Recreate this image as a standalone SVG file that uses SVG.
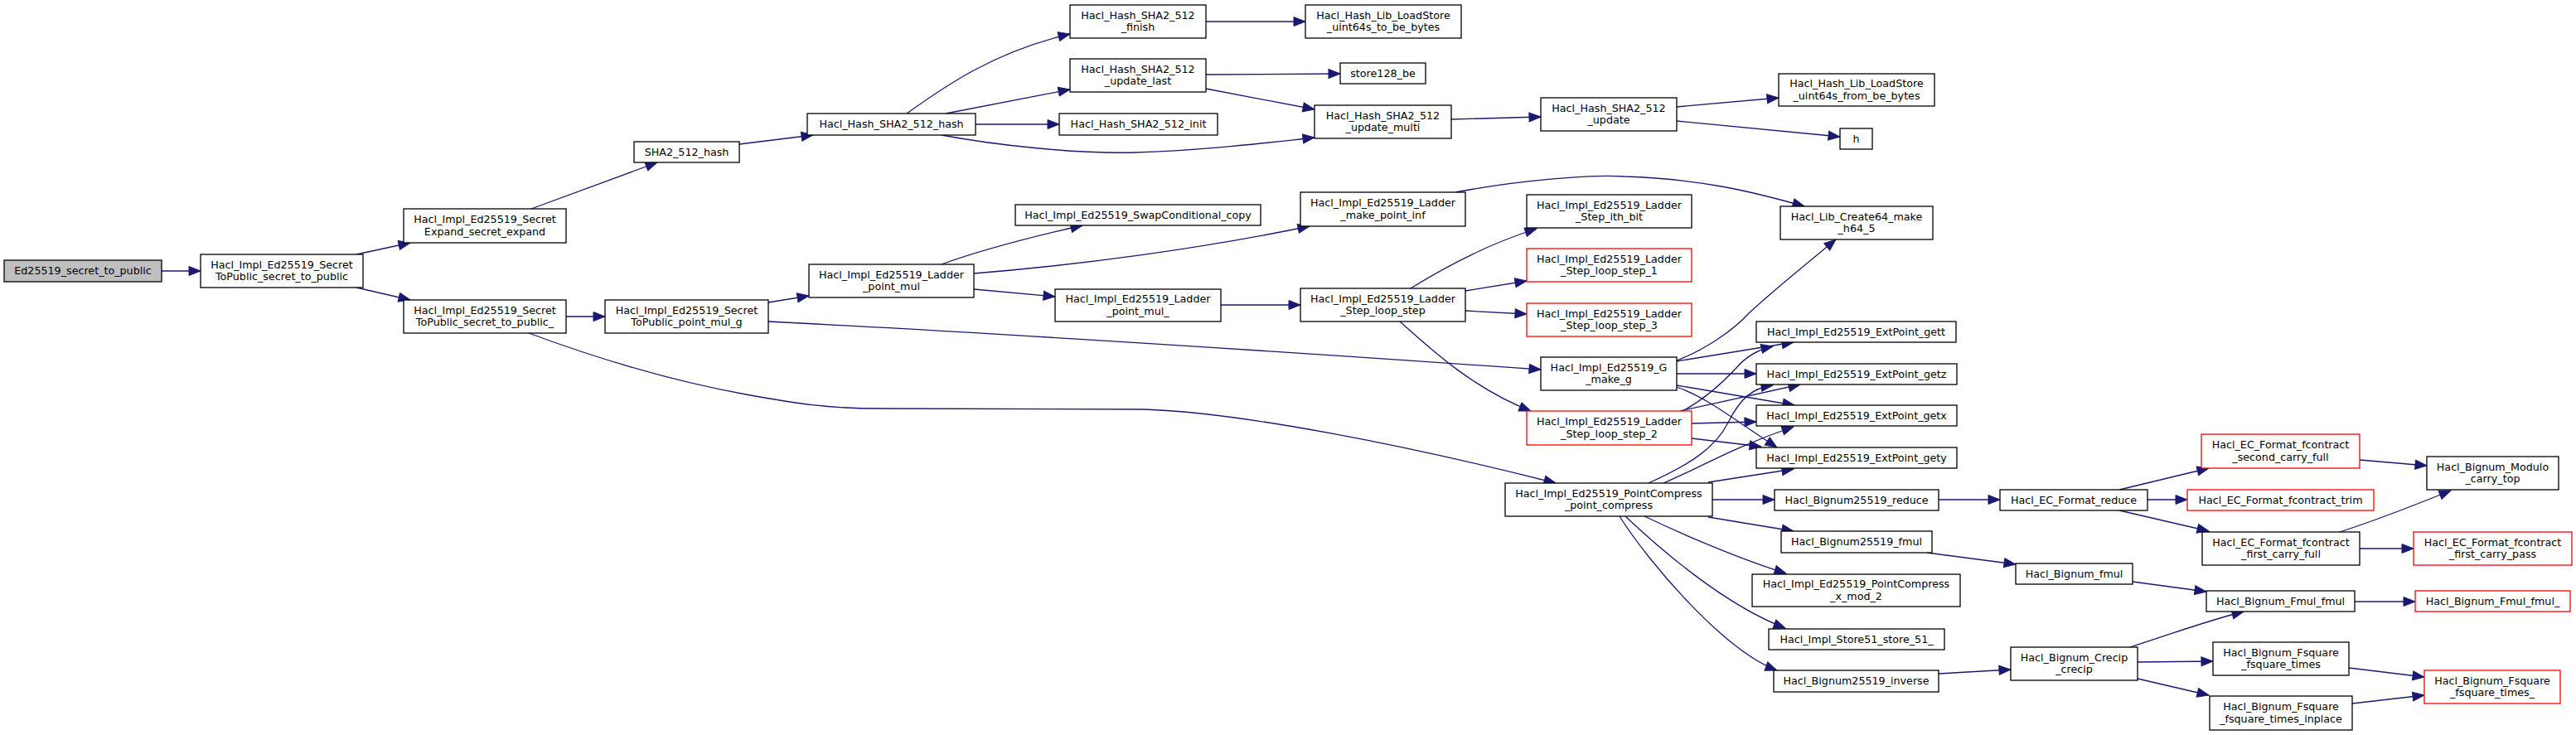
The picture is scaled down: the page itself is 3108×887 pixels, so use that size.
<svg xmlns="http://www.w3.org/2000/svg" width="3108" height="887" viewBox="0 0 3108 887">
<style>
rect.n{fill:#ffffff;stroke:#000000;stroke-width:1.3}
rect.r{fill:#ffffff;stroke:#ff0000;stroke-width:1.3}
rect.g{fill:#bfbfbf;stroke:#000000;stroke-width:1.3}
text{font-family:"DejaVu Sans","Liberation Sans",sans-serif;font-size:12.7px;fill:#000000;text-anchor:middle}
#edges path{fill:none;stroke:#191970;stroke-width:1.3;marker-end:url(#ah)}
</style>
<defs>
<marker id="ah" markerUnits="userSpaceOnUse" markerWidth="16" markerHeight="13" refX="14" refY="5.5" orient="auto" overflow="visible">
<path d="M0,0 L14,5.5 L0,11 z" fill="#191970" stroke="#191970" stroke-width="1"/>
</marker>
</defs>
<rect x="0" y="0" width="3108" height="887" fill="#ffffff"/>
<g id="edges">
<path d="M195,327 L242,327"/>
<path d="M430,307 L495,293"/>
<path d="M430,347 L495,362"/>
<path d="M641,252 L793,196"/>
<path d="M892,174 L981,163"/>
<path d="M683,382 L730,382"/>
<path d="M638,402 C700,425 800,458 900,476 C960,487 1000,493 1060,493 L1380,494 C1500,498 1700,538 1877,583"/>
<path d="M927,365 L976,357"/>
<path d="M927,388 C1200,402 1600,428 1859,446"/>
<path d="M1094,137 C1140,104 1200,62 1291,41"/>
<path d="M1141,137 L1291,108"/>
<path d="M1177,150 L1278,150"/>
<path d="M1136,163 C1200,175 1300,186 1369,184 C1450,182 1530,172 1586,166"/>
<path d="M1455,90 L1617,89"/>
<path d="M1455,107 L1586,132"/>
<path d="M1455,26 L1575,26"/>
<path d="M1751,144 L1859,141"/>
<path d="M2023,129 L2146,118"/>
<path d="M2023,146 L2220,165"/>
<path d="M1136,319 C1180,303 1240,287 1306,272"/>
<path d="M1175,330 C1300,320 1450,300 1580,273"/>
<path d="M1175,349 L1273,358"/>
<path d="M1473,368 L1569,368"/>
<path d="M1756,232 C1830,218 1920,210 1960,213 C2050,216 2110,230 2177,249"/>
<path d="M1702,348 C1750,318 1800,293 1854,276"/>
<path d="M1768,351 L1842,339"/>
<path d="M1768,375 L1842,379"/>
<path d="M1689,388 C1730,425 1780,470 1847,496"/>
<path d="M2023,435 C2055,423 2090,400 2110,378 C2140,350 2180,318 2215,289"/>
<path d="M2023,436 L2164,413"/>
<path d="M2023,451 L2119,451"/>
<path d="M2023,465 L2165,489"/>
<path d="M2023,467 C2060,480 2090,505 2144,540"/>
<path d="M2030,496 C2060,480 2080,460 2094,445 C2105,432 2120,422 2139,418"/>
<path d="M2027,496 L2172,464"/>
<path d="M2041,511 L2119,509"/>
<path d="M2041,529 L2125,539"/>
<path d="M1989,583 C2040,560 2070,540 2085,510 C2100,480 2115,468 2139,465"/>
<path d="M2007,583 C2050,565 2090,540 2164,515"/>
<path d="M2061,582 L2164,566"/>
<path d="M2066,603 L2141,603"/>
<path d="M2061,624 L2164,641"/>
<path d="M1984,623 C2030,645 2100,675 2155,692"/>
<path d="M1961,623 C2000,660 2080,730 2154,758"/>
<path d="M1954,623 C1990,680 2080,785 2144,809"/>
<path d="M2339,603 L2413,603"/>
<path d="M2325,667 L2432,681"/>
<path d="M2339,813 L2426,808"/>
<path d="M2557,591 L2665,565"/>
<path d="M2591,603 L2639,603"/>
<path d="M2557,616 L2665,641"/>
<path d="M2847,555 L2928,562"/>
<path d="M2823,642 C2860,630 2900,615 2957,592"/>
<path d="M2847,662 L2912,662"/>
<path d="M2573,702 L2662,714"/>
<path d="M2570,781 C2620,765 2660,750 2707,738"/>
<path d="M2579,799 L2670,798"/>
<path d="M2579,819 L2665,839"/>
<path d="M2841,726 L2914,726"/>
<path d="M2834,806 L2925,817"/>
<path d="M2838,849 L2925,839"/>
</g>
<g id="n_root"><rect class="g" x="5" y="314" width="190" height="26"/><text x="100" y="331">Ed25519_secret_to_public</text></g>
<g id="n_stp"><rect class="n" x="242" y="307" width="196" height="40"/><text x="340" y="323.5">Hacl_Impl_Ed25519_Secret</text><text x="340" y="338">ToPublic_secret_to_public</text></g>
<g id="n_expand"><rect class="n" x="487" y="252" width="196" height="41"/><text x="585" y="269">Hacl_Impl_Ed25519_Secret</text><text x="585" y="283.5">Expand_secret_expand</text></g>
<g id="n_stp_"><rect class="n" x="487" y="362" width="196" height="40"/><text x="585" y="378.5">Hacl_Impl_Ed25519_Secret</text><text x="585" y="393">ToPublic_secret_to_public_</text></g>
<g id="n_sha2hash"><rect class="n" x="765" y="171" width="127" height="25"/><text x="828.5" y="187.5">SHA2_512_hash</text></g>
<g id="n_pmulg"><rect class="n" x="730" y="362" width="197" height="40"/><text x="828.5" y="378.5">Hacl_Impl_Ed25519_Secret</text><text x="828.5" y="393">ToPublic_point_mul_g</text></g>
<g id="n_hash"><rect class="n" x="974" y="137" width="203" height="26"/><text x="1075.5" y="154">Hacl_Hash_SHA2_512_hash</text></g>
<g id="n_ladder_pm"><rect class="n" x="976" y="319" width="199" height="40"/><text x="1075.5" y="335.5">Hacl_Impl_Ed25519_Ladder</text><text x="1075.5" y="350">_point_mul</text></g>
<g id="n_finish"><rect class="n" x="1291" y="6" width="164" height="40"/><text x="1373" y="22.5">Hacl_Hash_SHA2_512</text><text x="1373" y="37">_finish</text></g>
<g id="n_update_last"><rect class="n" x="1291" y="71" width="164" height="40"/><text x="1373" y="87.5">Hacl_Hash_SHA2_512</text><text x="1373" y="102">_update_last</text></g>
<g id="n_init"><rect class="n" x="1278" y="137" width="191" height="26"/><text x="1373.5" y="154">Hacl_Hash_SHA2_512_init</text></g>
<g id="n_swap"><rect class="n" x="1225" y="247" width="296" height="25"/><text x="1373" y="263.5">Hacl_Impl_Ed25519_SwapConditional_copy</text></g>
<g id="n_ladder_pm_"><rect class="n" x="1273" y="349" width="200" height="39"/><text x="1373" y="365">Hacl_Impl_Ed25519_Ladder</text><text x="1373" y="379.5">_point_mul_</text></g>
<g id="n_tobe"><rect class="n" x="1575" y="6" width="188" height="40"/><text x="1669" y="22.5">Hacl_Hash_Lib_LoadStore</text><text x="1669" y="37">_uint64s_to_be_bytes</text></g>
<g id="n_store128"><rect class="n" x="1617" y="76" width="103" height="25"/><text x="1668.5" y="92.5">store128_be</text></g>
<g id="n_update_multi"><rect class="n" x="1586" y="127" width="165" height="40"/><text x="1668.5" y="143.5">Hacl_Hash_SHA2_512</text><text x="1668.5" y="158">_update_multi</text></g>
<g id="n_make_inf"><rect class="n" x="1569" y="232" width="199" height="41"/><text x="1668.5" y="249">Hacl_Impl_Ed25519_Ladder</text><text x="1668.5" y="263.5">_make_point_inf</text></g>
<g id="n_loop_step"><rect class="n" x="1569" y="348" width="199" height="40"/><text x="1668.5" y="364.5">Hacl_Impl_Ed25519_Ladder</text><text x="1668.5" y="379">_Step_loop_step</text></g>
<g id="n_update"><rect class="n" x="1859" y="118" width="164" height="40"/><text x="1941" y="134.5">Hacl_Hash_SHA2_512</text><text x="1941" y="149">_update</text></g>
<g id="n_ith_bit"><rect class="n" x="1842" y="235" width="199" height="40"/><text x="1941.5" y="251.5">Hacl_Impl_Ed25519_Ladder</text><text x="1941.5" y="266">_Step_ith_bit</text></g>
<g id="n_ls1"><rect class="r" x="1842" y="300" width="199" height="40"/><text x="1941.5" y="316.5">Hacl_Impl_Ed25519_Ladder</text><text x="1941.5" y="331">_Step_loop_step_1</text></g>
<g id="n_ls3"><rect class="r" x="1842" y="366" width="199" height="40"/><text x="1941.5" y="382.5">Hacl_Impl_Ed25519_Ladder</text><text x="1941.5" y="397">_Step_loop_step_3</text></g>
<g id="n_make_g"><rect class="n" x="1859" y="431" width="164" height="40"/><text x="1941" y="447.5">Hacl_Impl_Ed25519_G</text><text x="1941" y="462">_make_g</text></g>
<g id="n_ls2"><rect class="r" x="1842" y="496" width="199" height="41"/><text x="1941.5" y="513">Hacl_Impl_Ed25519_Ladder</text><text x="1941.5" y="527.5">_Step_loop_step_2</text></g>
<g id="n_compress"><rect class="n" x="1816" y="583" width="250" height="40"/><text x="1941" y="599.5">Hacl_Impl_Ed25519_PointCompress</text><text x="1941" y="614">_point_compress</text></g>
<g id="n_frombe"><rect class="n" x="2146" y="89" width="188" height="39"/><text x="2240" y="105">Hacl_Hash_Lib_LoadStore</text><text x="2240" y="119.5">_uint64s_from_be_bytes</text></g>
<g id="n_h"><rect class="n" x="2220" y="155" width="39" height="25"/><text x="2239.5" y="171.5">h</text></g>
<g id="n_h64"><rect class="n" x="2148" y="249" width="184" height="40"/><text x="2240" y="265.5">Hacl_Lib_Create64_make</text><text x="2240" y="280">_h64_5</text></g>
<g id="n_gett"><rect class="n" x="2119" y="388" width="241" height="25"/><text x="2239.5" y="404.5">Hacl_Impl_Ed25519_ExtPoint_gett</text></g>
<g id="n_getz"><rect class="n" x="2119" y="439" width="242" height="25"/><text x="2240" y="455.5">Hacl_Impl_Ed25519_ExtPoint_getz</text></g>
<g id="n_getx"><rect class="n" x="2119" y="489" width="242" height="25"/><text x="2240" y="505.5">Hacl_Impl_Ed25519_ExtPoint_getx</text></g>
<g id="n_gety"><rect class="n" x="2119" y="540" width="242" height="25"/><text x="2240" y="556.5">Hacl_Impl_Ed25519_ExtPoint_gety</text></g>
<g id="n_reduce25519"><rect class="n" x="2141" y="591" width="198" height="25"/><text x="2240" y="607.5">Hacl_Bignum25519_reduce</text></g>
<g id="n_fmul25519"><rect class="n" x="2149" y="641" width="182" height="26"/><text x="2240" y="658">Hacl_Bignum25519_fmul</text></g>
<g id="n_xmod2"><rect class="n" x="2114" y="693" width="251" height="39"/><text x="2239.5" y="709">Hacl_Impl_Ed25519_PointCompress</text><text x="2239.5" y="723.5">_x_mod_2</text></g>
<g id="n_store51"><rect class="n" x="2134" y="759" width="212" height="25"/><text x="2240" y="775.5">Hacl_Impl_Store51_store_51_</text></g>
<g id="n_inverse"><rect class="n" x="2140" y="809" width="199" height="26"/><text x="2239.5" y="826">Hacl_Bignum25519_inverse</text></g>
<g id="n_ecreduce"><rect class="n" x="2413" y="591" width="178" height="25"/><text x="2502" y="607.5">Hacl_EC_Format_reduce</text></g>
<g id="n_bnfmul"><rect class="n" x="2432" y="680" width="141" height="25"/><text x="2502.5" y="696.5">Hacl_Bignum_fmul</text></g>
<g id="n_crecip"><rect class="n" x="2426" y="781" width="153" height="40"/><text x="2502.5" y="797.5">Hacl_Bignum_Crecip</text><text x="2502.5" y="812">_crecip</text></g>
<g id="n_second"><rect class="r" x="2656" y="524" width="191" height="41"/><text x="2751.5" y="541">Hacl_EC_Format_fcontract</text><text x="2751.5" y="555.5">_second_carry_full</text></g>
<g id="n_trim"><rect class="r" x="2639" y="591" width="225" height="25"/><text x="2751.5" y="607.5">Hacl_EC_Format_fcontract_trim</text></g>
<g id="n_first_full"><rect class="n" x="2657" y="642" width="190" height="40"/><text x="2752" y="658.5">Hacl_EC_Format_fcontract</text><text x="2752" y="673">_first_carry_full</text></g>
<g id="n_fmulfmul"><rect class="n" x="2662" y="713" width="179" height="25"/><text x="2751.5" y="729.5">Hacl_Bignum_Fmul_fmul</text></g>
<g id="n_fsq_times"><rect class="n" x="2670" y="775" width="164" height="40"/><text x="2752" y="791.5">Hacl_Bignum_Fsquare</text><text x="2752" y="806">_fsquare_times</text></g>
<g id="n_fsq_inplace"><rect class="n" x="2666" y="840" width="172" height="41"/><text x="2752" y="857">Hacl_Bignum_Fsquare</text><text x="2752" y="871.5">_fsquare_times_inplace</text></g>
<g id="n_carry_top"><rect class="n" x="2928" y="551" width="159" height="40"/><text x="3007.5" y="567.5">Hacl_Bignum_Modulo</text><text x="3007.5" y="582">_carry_top</text></g>
<g id="n_first_pass"><rect class="r" x="2912" y="642" width="191" height="40"/><text x="3007.5" y="658.5">Hacl_EC_Format_fcontract</text><text x="3007.5" y="673">_first_carry_pass</text></g>
<g id="n_fmul_"><rect class="r" x="2914" y="713" width="187" height="25"/><text x="3007.5" y="729.5">Hacl_Bignum_Fmul_fmul_</text></g>
<g id="n_fsq_times_"><rect class="r" x="2925" y="809" width="164" height="40"/><text x="3007" y="825.5">Hacl_Bignum_Fsquare</text><text x="3007" y="840">_fsquare_times_</text></g>
</svg>
